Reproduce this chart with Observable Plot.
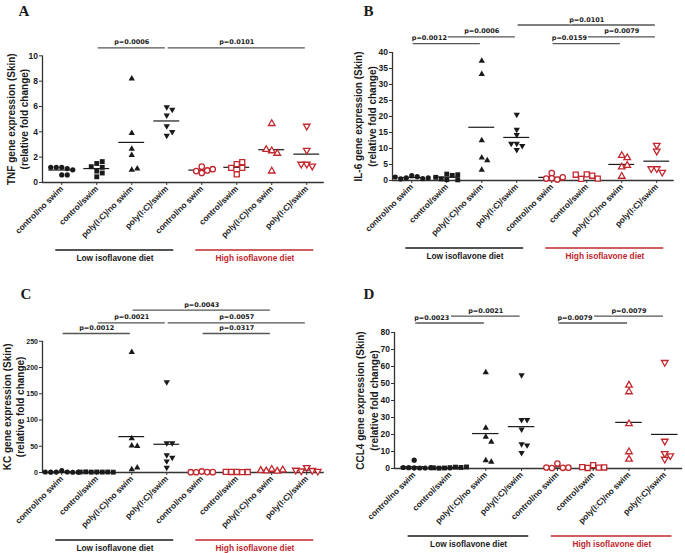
<!DOCTYPE html>
<html><head><meta charset="utf-8">
<script src="https://cdn.jsdelivr.net/npm/d3@7"></script>
<script src="https://cdn.jsdelivr.net/npm/@observablehq/plot@0.6"></script>
<style>
body{margin:0;background:#fff;}
#root{position:relative;width:685px;height:553px;overflow:hidden;background:#fff;}
.panel{position:absolute;}
.panel svg{display:block;overflow:visible;}
</style></head><body><div id="root"></div>
<script>
// ---------- data ----------
const groupLabels = ["control/no swim","control/swim","poly(I:C)/no swim","poly(I:C)/swim",
                     "control/no swim","control/swim","poly(I:C)/no swim","poly(I:C)/swim"];
const dietLabels = ["Low isoflavone diet","High isoflavone diet"];
const dietGroups = [[1,4],[5,8]];

const tnfValues = [
  [1.2,1.1,1.2,1.0,1.2,0.6,0.6],
  [1.5,1.65,1.2,0.9,1.25,0.45,0.75],
  [8.2,3.9,2.65,2.15,1.0,1.1],
  [5.95,5.75,5.3,4.45,3.7,4.0],
  [1.25,0.95,0.75,0.9,1.05],
  [1.45,1.6,1.15,0.65,1.15],
  [4.65,2.5,2.3,2.6,0.9],
  [4.45,2.55,1.45,1.3,1.45]
];
const il6Values = [
  [1.5,1.2,0.8,0.6,0.5,0.8,1.1],
  [2.0,1.6,0.5,0.3,0.2,1.8,1.0],
  [37.4,33.2,12.5,7.1,6.3,3.3],
  [20.6,15.9,14.3,11.5,10.8,9.6,11.5],
  [2.3,0.7,0.3,0.6,1.0],
  [1.9,1.5,0.5,0.6,1.8],
  [7.8,7.1,4.2,4.7,1.3],
  [11.0,9.2,3.7,2.6,3.7]
];
const kcValues = [
  [3.5,1.0,0.8,0.5,0.6,0.7,1.0],
  [1.0,0.8,0.7,0.9,1.2,0.6,0.8],
  [229,65,51,50,6,9],
  [172,56,56,33,28.5,21.5,9.5],
  [2.0,0.8,0.5,0.7,0.6],
  [1.0,0.8,1.0,0.9,1.1],
  [6.0,2.5,3.0,5.0,4.0],
  [9.5,4.0,3.0,2.5,4.5]
];
const ccl4Values = [
  [4.9,0.4,0.3,0.5,0.3,0.6,0.5],
  [0.5,0.8,0.3,0.6,0.2,0.9,0.4],
  [56.5,23.9,18.6,15.7,4.7,3.9],
  [54.9,28.6,28.6,23.1,14.3,13.7,9.2],
  [2.9,0.4,0.3,0.5,0.6],
  [2.0,0.5,0.3,0.6,0.8],
  [49,45.1,26.3,9.8,5.5],
  [62.4,16.1,8.8,5.5,7.5]
];

const tnfBrackets = [
  {from:2,to:4,level:10.63,label:"p=0.0006"},
  {from:4,to:8,level:10.63,label:"p=0.0101"}
];
const il6Brackets = [
  {from:1,to:3,level:42.8,label:"p=0.0012"},
  {from:2,to:4,level:44.9,label:"p=0.0006"},
  {from:4,to:8,level:48.6,label:"p=0.0101"},
  {from:5,to:7,level:42.8,label:"p=0.0159"},
  {from:6,to:8,level:44.9,label:"p=0.0079"}
];
const kcBrackets = [
  {from:1,to:3,level:264.8,label:"p=0.0012"},
  {from:2,to:4,level:285,label:"p=0.0021"},
  {from:4,to:8,level:285,label:"p=0.0057"},
  {from:3,to:7,level:309.4,label:"p=0.0043"},
  {from:5,to:7,level:264.8,label:"p=0.0317"}
];
const ccl4Brackets = [
  {from:1,to:3,level:85.6,label:"p=0.0023"},
  {from:2,to:4,level:89.6,label:"p=0.0021"},
  {from:5,to:7,level:85.6,label:"p=0.0079"},
  {from:6,to:8,level:89.6,label:"p=0.0079"}
];

const tnfTicks = [0,2,4,6,8,10];
const il6Ticks = [0,5,10,15,20,25,30,35,40];
const kcTicks = [0,50,100,150,200,250];
const ccl4Ticks = [0,10,20,30,40,50,60,70,80];

const tnfTitle = "TNF gene expression (Skin)\n(relative fold change)";
const il6Title = "IL-6 gene expression (Skin)\n(relative fold change)";
const kcTitle = "KC gene expression (Skin)\n(relative fold change)";
const ccl4Title = "CCL4 gene expression (Skin)\n(relative fold change)";

// ---------- styling / layout ----------
const RED = "#c1272d";
const INK = "#1a1a1a";
const AXIS = "#333";
const triDown = {
  draw(context, size) {
    const s3 = Math.sqrt(3);
    const y = Math.sqrt(size / (s3 * 3));
    context.moveTo(0, y * 2);
    context.lineTo(-s3 * y, -y);
    context.lineTo(s3 * y, -y);
    context.closePath();
  }
};
const SYMBOLS = ["circle","square","triangle",triDown];
const RADII = [2.6,2.75,2.35,2.35];

const panels = [
  {letter:"A", left:0, top:0, width:342, height:275, ml:42, mt:30, mb:93, spacing:35, ymax:12,
   values:tnfValues, brackets:tnfBrackets, ticks:tnfTicks, title:tnfTitle, tickFont:8.5,
   letterDx:-24, letterDy:-25, titleDx:-25.5},
  {letter:"B", left:342, top:0, width:343, height:275, ml:50, mt:20, mb:95, spacing:35, ymax:50,
   values:il6Values, brackets:il6Brackets, ticks:il6Ticks, title:il6Title, tickFont:8.5,
   letterDx:-29, letterDy:-15, titleDx:-28},
  {letter:"C", left:0, top:275, width:342, height:278, ml:42, mt:29, mb:81, spacing:35, ymax:320,
   values:kcValues, brackets:kcBrackets, ticks:kcTicks, title:kcTitle, tickFont:7,
   letterDx:-22, letterDy:-16, titleDx:-29.5},
  {letter:"D", left:342, top:275, width:343, height:278, ml:52, mt:23, mb:85, spacing:35.8, ymax:100,
   values:ccl4Values, brackets:ccl4Brackets, ticks:ccl4Ticks, title:ccl4Title, tickFont:8.5,
   letterDx:-31, letterDy:-10, titleDx:-28}
];

const X0 = 0.45, X1 = 8.5;

function buildPanel(cfg) {
  const plotW = (X1 - X0) * cfg.spacing;
  const mr = cfg.width - cfg.ml - plotW;
  const plotH = cfg.height - cfg.mt - cfg.mb;
  const ppu = plotH / cfg.ymax;
  const step = 5.5 / cfg.spacing;

  // simple beeswarm spread of points within a group
  const points = [];
  cfg.values.forEach((vals, gi) => {
    const placed = [];
    vals.forEach(v => {
      let off = 0;
      for (let k = 0; k < 30; k++) {
        const cand = (k % 2 ? 1 : -1) * Math.ceil(k / 2) * step;
        const clash = placed.some(p => Math.abs(p.off - cand) < step * 0.9 && Math.abs(p.v - v) * ppu < 5);
        if (!clash) { off = cand; break; }
      }
      placed.push({v, off});
      points.push({g: gi + 1, v, x: gi + 1 + off});
    });
  });
  const means = cfg.values.map((vals, i) => ({g: i + 1, m: d3.mean(vals)}));

  const br = cfg.brackets.map(b => ({
    ...b,
    start: cfg.brackets.some(c => c !== b && c.level > b.level && (c.level - b.level) * ppu < 9 && c.from > b.from && c.from < b.to)
  }));

  const diets = dietLabels.map((label, i) => ({label, from: dietGroups[i][0], to: dietGroups[i][1], color: i === 0 ? INK : RED}));
  const topTick = cfg.ticks[cfg.ticks.length - 1];

  const marks = [
    // axes lines
    Plot.ruleY([0], {stroke: AXIS, strokeWidth: 1.3}),
    Plot.ruleX([X0], {y1: 0, y2: topTick, stroke: AXIS, strokeWidth: 1.3}),
    Plot.axisY({ticks: cfg.ticks, tickSize: 3, tickPadding: 1.5, fontSize: cfg.tickFont, fontWeight: "bold", label: null, stroke: AXIS}),
    Plot.axisX({ticks: d3.range(1, 9), tickFormat: i => groupLabels[i - 1], tickRotate: -45, tickSize: 3, tickPadding: 2,
                fontSize: 8.3, fontWeight: "bold", label: null, stroke: AXIS}),
    // means
    Plot.ruleY(means, {y: "m", x1: d => d.g - 0.37, x2: d => d.g + 0.37, stroke: INK, strokeWidth: 1.2}),
  ];
  for (let gi = 0; gi < 8; gi++) {
    const high = gi >= 4;
    marks.push(Plot.dot(points.filter(p => p.g === gi + 1), {
      x: "x", y: "v", symbol: SYMBOLS[gi % 4], r: RADII[gi % 4] + (high ? 0.1 : 0),
      fill: high ? "white" : INK, stroke: high ? RED : "none", strokeWidth: high ? 1.3 : 0
    }));
  }
  marks.push(
    // brackets
    Plot.ruleY(br, {y: "level", x1: d => d.from + 0.04, x2: d => d.to - 0.04, stroke: "#555", strokeWidth: 1.3}),
    Plot.text(br.filter(d => !d.start), {x: d => (d.from + d.to) / 2, y: "level", text: "label", dy: -5.5,
      fontSize: 6.5, fontWeight: "bold", fontFamily: "DejaVu Sans, sans-serif", fill: INK, stroke: "white", strokeWidth: 2}),
    Plot.text(br.filter(d => d.start), {x: d => d.from, y: "level", text: "label", dy: -5.5, textAnchor: "start",
      fontSize: 6.5, fontWeight: "bold", fontFamily: "DejaVu Sans, sans-serif", fill: INK, stroke: "white", strokeWidth: 2}),
    // diet group lines and labels
    Plot.ruleY(diets, {y: 0, x1: d => d.from - 0.17, x2: d => d.to + 0.2, dy: 67.5, stroke: d => d.color, strokeWidth: 1.3}),
    Plot.text(diets, {y: 0, x: d => (d.from + d.to) / 2 + 0.02, text: "label", dy: 76, fill: d => d.color,
      fontSize: 8.3, fontWeight: "bold"}),
    // y title
    Plot.text([cfg.title], {frameAnchor: "left", y: topTick / 2, text: d => d, rotate: -90, dx: cfg.titleDx,
      textAnchor: "middle", lineAnchor: "middle",
      fontSize: 10, fontWeight: "bold", lineHeight: 1.35, fill: INK}),
    // panel letter
    Plot.text([cfg.letter], {frameAnchor: "top-left", text: d => d, dx: cfg.letterDx, dy: cfg.letterDy,
      lineAnchor: "top", textAnchor: "start", fontFamily: "Liberation Serif, Times New Roman, serif",
      fontWeight: "bold", fontSize: 15, fill: INK})
  );

  const svg = Plot.plot({
    width: cfg.width, height: cfg.height,
    marginLeft: cfg.ml, marginRight: mr, marginTop: cfg.mt, marginBottom: cfg.mb,
    x: {domain: [X0, X1], type: "linear"},
    y: {domain: [0, cfg.ymax], type: "linear"},
    style: {fontFamily: "Arial, 'Liberation Sans', sans-serif", fontSize: "8.5px", fontWeight: "bold", color: INK, background: "white", overflow: "visible"},
    marks
  });
  const div = document.createElement("div");
  div.className = "panel";
  div.style.left = cfg.left + "px";
  div.style.top = cfg.top + "px";
  div.appendChild(svg);
  document.getElementById("root").appendChild(div);
}

panels.forEach(buildPanel);
</script>
</body></html>
